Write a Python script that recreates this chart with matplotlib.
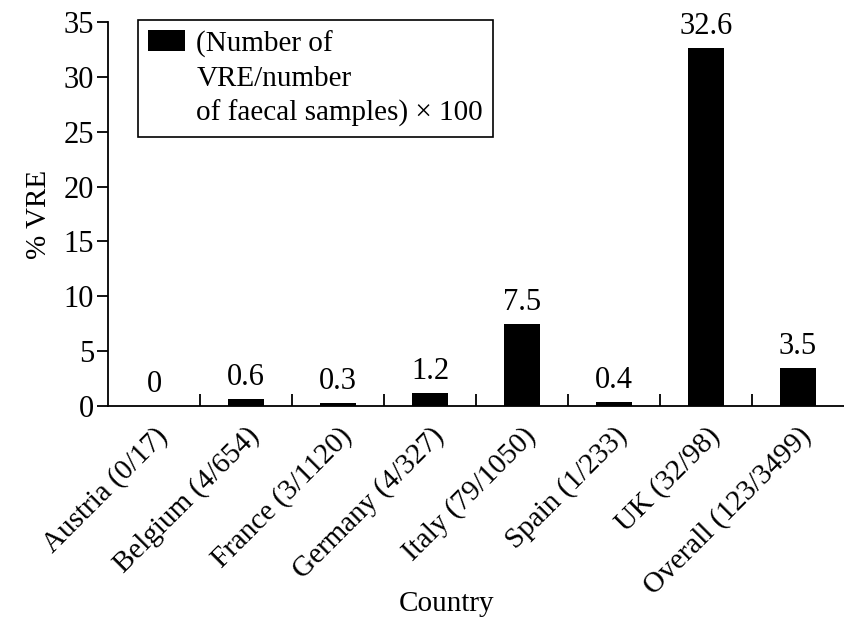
import matplotlib
matplotlib.use("Agg")
import matplotlib.pyplot as plt
from matplotlib.ticker import FixedLocator

# data
countries = ["Austria (0/17)", "Belgium (4/654)", "France (3/1120)", "Germany (4/327)",
             "Italy (79/1050)", "Spain (1/233)", "UK (32/98)", "Overall (123/3499)"]
vre_pct = [0, 0.6, 0.3, 1.2, 7.5, 0.4, 32.6, 3.5]
bar_labels = ["0", "0.6", "0.3", "1.2", "7.5", "0.4", "32.6", "3.5"]
yticks = [0, 5, 10, 15, 20, 25, 30, 35]

plt.rcParams["font.family"] = ["Liberation Serif", "DejaVu Serif"]
plt.rcParams["font.size"] = 21

fig = plt.figure(figsize=(8.44, 6.19), dpi=100)
ax = fig.add_axes([108 / 844, 1 - 406 / 619, 736 / 844, 384 / 619])

x = list(range(len(countries)))
ax.bar(x, vre_pct, width=0.39, color="black",
       label="(Number of\nVRE/number\nof faecal samples) × 100")

for xi, v, lab in zip(x, vre_pct, bar_labels):
    ax.annotate(lab, (xi, v), xytext=(0, 5), textcoords="offset points",
                ha="center", va="bottom", fontsize=22)

ax.set_xlim(-0.5, 7.5)
ax.set_ylim(0, 35)
ax.set_yticks(yticks)
ax.set_xticks(x)
ax.set_xticklabels(countries, rotation=45, ha="right", rotation_mode="anchor", fontsize=21)
ax.xaxis.set_minor_locator(FixedLocator([i + 0.5 for i in range(len(countries) - 1)]))
ax.tick_params(axis="x", which="major", length=0, pad=12)
ax.tick_params(axis="x", which="minor", direction="in", length=9, width=1.3)
ax.tick_params(axis="y", direction="out", length=8, width=1.3, labelsize=22, pad=2)

for s in ["top", "right"]:
    ax.spines[s].set_visible(False)
ax.spines["left"].set_linewidth(1.3)
ax.spines["bottom"].set_linewidth(1.3)

ax.set_ylabel("% VRE", fontsize=21, labelpad=8)
ax.set_xlabel("Country", fontsize=21)
ax.xaxis.set_label_coords((447 - 108) / 736, (406 - 604) / 384)
ax.xaxis.label.set_va("center")

leg = ax.legend(loc="upper left", bbox_to_anchor=(30 / 736, 1 + 2 / 384), borderaxespad=0,
                fontsize=21, fancybox=False, edgecolor="black", framealpha=1,
                handlelength=1.27, handleheight=0.7, handletextpad=0.38,
                borderpad=0.35, labelspacing=0.2)
leg.get_frame().set_linewidth(1.2)
for t in leg.get_texts():
    t.set_linespacing(1.4)
# put the swatch next to the first line of the label
for col in leg._legend_handle_box.get_children():
    for row in col.get_children():
        row.align = "top"

fig.savefig("out.png", dpi=100)
